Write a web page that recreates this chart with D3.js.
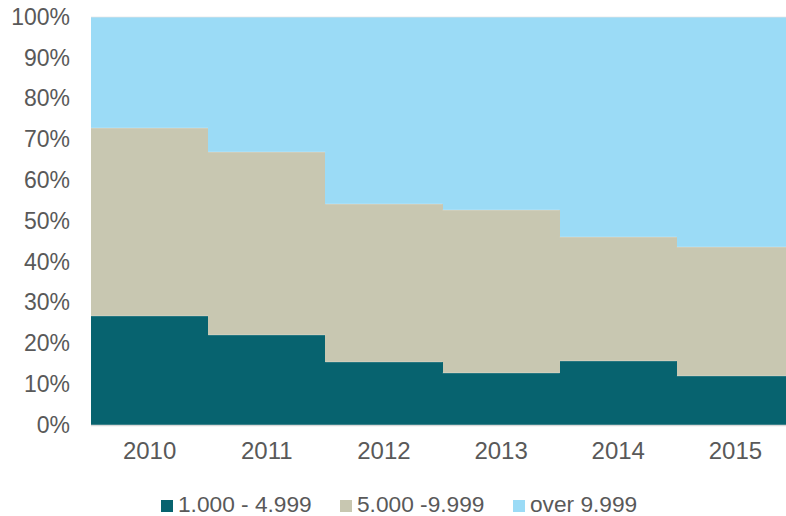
<!DOCTYPE html>
<html><head><meta charset="utf-8">
<script src="https://cdn.jsdelivr.net/npm/d3@7"></script>
<style>body{margin:0;background:#fff}svg{display:block}text{font-family:"Liberation Sans",Arial,sans-serif;fill:#595959}</style>
</head><body><svg id="c" width="786" height="516"></svg>
<script>
const years = ["2010","2011","2012","2013","2014","2015"];
const seriesNames = ["1.000 - 4.999","5.000 -9.999","over 9.999"];
const small = [26.7, 22.1, 15.4, 12.8, 15.7, 12.0];
const medium = [46.0, 44.9, 38.7, 39.8, 30.5, 31.6];
const large = [27.3, 33.0, 45.9, 47.4, 53.8, 56.4];
const yTicks = [0,10,20,30,40,50,60,70,80,90,100];
const colors = ["#07636F","#C8C7B1","#9BDBF6"];

const svg = d3.select("#c");
const m = {left:91, top:17, right:794, bottom:425};
const x = d3.scaleBand().domain(years).range([m.left, m.right]).padding(0);
const y = d3.scaleLinear().domain([0,100]).range([m.bottom, m.top]);

const rows = years.map((yr,i)=>({year:yr, s0:small[i], s1:medium[i], s2:large[i]}));
const stack = d3.stack().keys(["s0","s1","s2"]).offset(d3.stackOffsetExpand);
const layers = stack(rows);

svg.append("g").attr("shape-rendering","crispEdges").selectAll("g").data(layers).join("g")
  .attr("fill",(d,i)=>colors[i])
  .selectAll("rect").data(d=>d).join("rect")
  .attr("x",d=>Math.round(x(d.data.year)))
  .attr("width",d=>Math.round(x(d.data.year)+x.bandwidth())-Math.round(x(d.data.year)))
  .attr("y",d=>Math.round(y(d[1]*100)))
  .attr("height",d=>Math.round(y(d[0]*100))-Math.round(y(d[1]*100)));

// faint separators on segment tops
svg.append("g").selectAll("line").data(layers.slice(0,2).flat()).join("line")
  .attr("x1",d=>x(d.data.year)).attr("x2",d=>x(d.data.year)+x.bandwidth())
  .attr("y1",d=>Math.round(y(d[1]*100))).attr("y2",d=>Math.round(y(d[1]*100)))
  .attr("stroke","rgba(255,255,255,0.35)").attr("stroke-width",0.75);

// bottom axis line
svg.append("line").attr("x1",m.left).attr("x2",m.right).attr("y1",m.bottom+0.5).attr("y2",m.bottom+0.5)
  .attr("stroke","#d9d9d9").attr("stroke-width",1.5);
// faint top line
svg.append("line").attr("x1",m.left).attr("x2",m.right).attr("y1",m.top).attr("y2",m.top)
  .attr("stroke","#e6e6e6").attr("stroke-width",0.75);

// y axis
const ya = svg.append("g").attr("transform",`translate(${m.left},0)`)
  .call(d3.axisLeft(y).tickValues(yTicks).tickFormat(d=>d+"%").tickSize(0).tickPadding(21));
ya.select(".domain").remove();
ya.selectAll("text").attr("font-size",23).attr("fill","#595959").attr("font-family","Liberation Sans, Arial, sans-serif");

// x axis
const xa = svg.append("g").attr("transform",`translate(0,${m.bottom})`)
  .call(d3.axisBottom(x).tickSize(0).tickPadding(17));
xa.select(".domain").remove();
xa.selectAll("text").attr("font-size",24).attr("fill","#595959").attr("font-family","Liberation Sans, Arial, sans-serif");

// legend
const legX = [161, 340, 513];
const lg = svg.append("g");
seriesNames.forEach((n,i)=>{
  lg.append("rect").attr("x",legX[i]).attr("y",500).attr("width",12).attr("height",12).attr("fill",colors[i]);
  lg.append("text").attr("x",legX[i]+17).attr("y",512).attr("font-size",22.7).text(n);
});
</script></body></html>
